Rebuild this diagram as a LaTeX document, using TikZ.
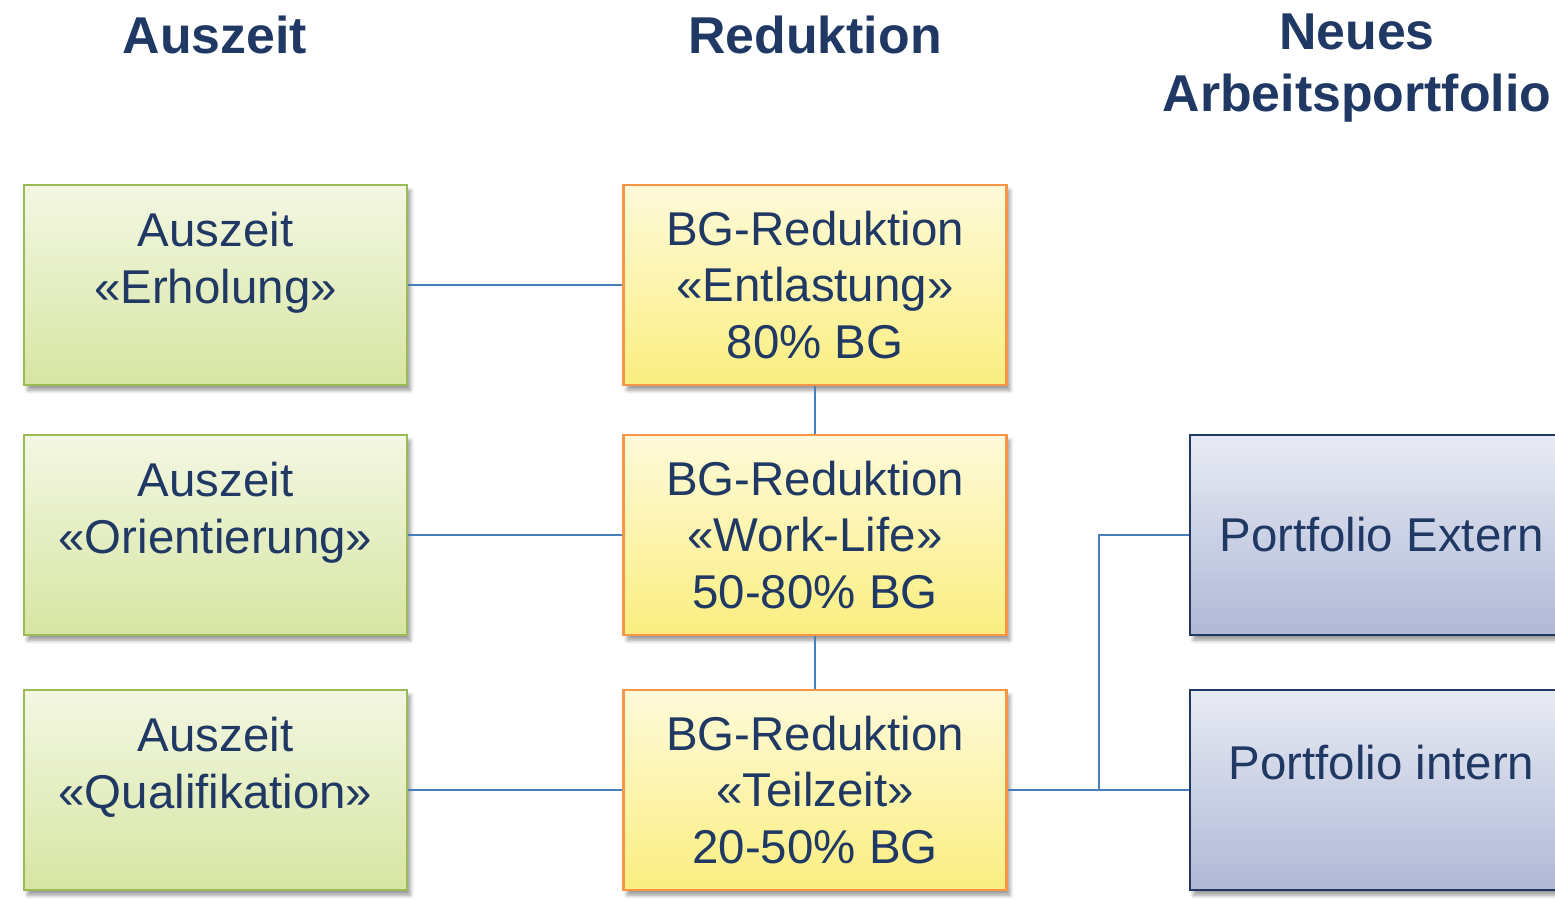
\documentclass[tikz,border=0pt]{standalone}
\usepackage{fontspec}
\setmainfont{Liberation Sans}
\usepackage{tikz}
\usetikzlibrary{shadows.blur}
\definecolor{navy}{HTML}{1F3864}
\definecolor{linkblue}{HTML}{4A7EBB}
\definecolor{gruenRand}{HTML}{9BBB59}
\definecolor{gruenOben}{HTML}{F3F7E3}
\definecolor{gruenUnten}{HTML}{D7E5A2}
\definecolor{gelbRand}{HTML}{F79646}
\definecolor{gelbOben}{HTML}{FEFADA}
\definecolor{gelbUnten}{HTML}{FAEE80}
\definecolor{blauOben}{HTML}{E8EBF4}
\definecolor{blauUnten}{HTML}{AFB8D6}
\tikzstyle{box} = [rectangle, minimum width=7.66cm, minimum height=4cm, line width=1.4pt,
    align=center, text=navy, font=\fontsize{27}{32.4}\selectfont,
    blur shadow={shadow xshift=2pt, shadow yshift=-3pt, shadow opacity=40, shadow blur steps=6}]
\tikzstyle{auszeit} = [box, draw=gruenRand, top color=gruenOben, bottom color=gruenUnten]
\tikzstyle{redu} = [box, draw=gelbRand, top color=gelbOben, bottom color=gelbUnten]
\tikzstyle{portfolio} = [box, draw=navy, line width=1.4pt, top color=blauOben, bottom color=blauUnten]
\tikzstyle{head} = [align=center, text=navy, font=\fontsize{29.5}{35.3}\selectfont\bfseries]
\tikzstyle{link} = [draw=linkblue, line width=1.3pt]

\begin{document}
\begin{tikzpicture}[x=0.02cm, y=-0.02cm]
    \useasboundingbox (0,0) rectangle (1555,902);

    % Spaltenkoepfe
    \node[head] (hAus) at (215,35) {Auszeit};
    \node[head] (hRed) at (815,35) {Reduktion};
    \node[head] (hNeu) at (1357,68) {Neues\\Arbeitsportfolio};

    % Auszeit
    \node[auszeit] (erholung) at (215.5,285) {Auszeit\\«Erholung»\\[-11pt]\strut};
    \node[auszeit] (orient) at (215.5,535) {Auszeit\\«Orientierung»\\[-11pt]\strut};
    \node[auszeit] (quali) at (215.5,790) {Auszeit\\«Qualifikation»\\[-11pt]\strut};

    % Reduktion
    \node[redu] (entl) at (815,285) {BG-Reduktion\\«Entlastung»\\80\% BG};
    \node[redu] (work) at (815,535) {BG-Reduktion\\«Work-Life»\\50-80\% BG};
    \node[redu] (teil) at (815,790) {BG-Reduktion\\«Teilzeit»\\20-50\% BG};

    % Portfolio
    \node[portfolio] (extern) at (1381.5,535) {Portfolio Extern};
    \node[portfolio] (intern) at (1381.5,790) {Portfolio intern\\[-11pt]\strut};

    % Verbindungen
    \draw[link] (erholung) -- (entl);
    \draw[link] (orient) -- (work);
    \draw[link] (quali) -- (teil);
    \draw[link] (entl) -- (work);
    \draw[link] (work) -- (teil);
    \draw[link] (teil) -- (intern);
    \coordinate (knick) at (1099,790);
    \draw[link] (knick) |- (extern.west);
\end{tikzpicture}
\end{document}
